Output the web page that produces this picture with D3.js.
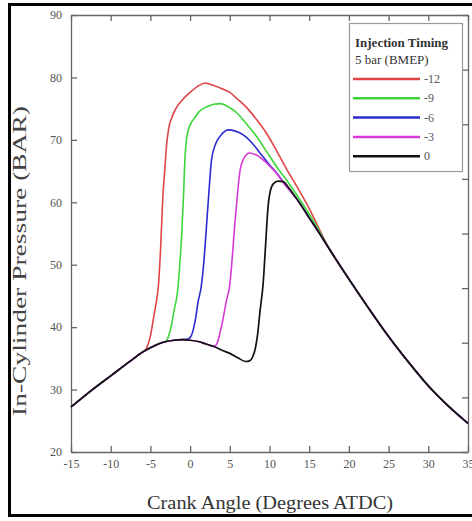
<html>
  <head>
    <meta charset="utf-8">
    <script src="https://d3js.org/d3.v7.min.js"></script>
    <style>
      body { margin: 0; background: #fff; }
    </style>
  </head>
  <body>
    <script>
        // values: [crank angle, pressure]
        var xTicks = [-15, -10, -5, 0, 5, 10, 15, 20, 25, 30, 35];
        var yTicks = [20, 30, 40, 50, 60, 70, 80, 90];

        // shared motoring / compression part
        var compression = [[-15, 27.2], [-12.5, 29.8], [-10, 32.2], [-7.5, 34.6], [-6, 36.0], [-5, 36.7],
            [-4, 37.3], [-3, 37.7], [-2, 37.9], [-1, 38.0], [0, 37.9], [1, 37.7], [2, 37.3], [3, 36.9],
            [4, 36.3], [5, 35.8], [6, 35.1], [7, 34.5]];
        // shared expansion part
        var expansion = [[14, 59.5], [15, 57.5], [16, 55.6], [17.5, 52.6], [20, 47.7], [22.5, 43.0],
            [25, 38.5], [27.5, 34.4], [30, 30.6], [32.5, 27.4], [35, 24.6]];

        var red = [[-5.5, 36.6], [-5.2, 37.6], [-5.0, 38.6], [-4.6, 41.5], [-4.2, 44.5], [-4.0, 46.5],
            [-3.7, 53], [-3.45, 60.4], [-3.2, 65], [-2.95, 69.3], [-2.7, 71.8], [-2.3, 73.6], [-1.7, 75.2],
            [-0.9, 76.5], [0, 77.6], [1, 78.6], [1.9, 79.1], [3, 78.7], [4, 78.2], [5, 77.6], [6, 76.5],
            [7.1, 75.2], [8.4, 73.2], [9.6, 71.1], [11, 68.0], [12.2, 65.2], [13, 63.5], [14, 61.3],
            [15, 59.0], [16, 56.4]];
        var green = [[-3.0, 37.8], [-2.7, 38.6], [-2.4, 40.0], [-2.0, 42.8], [-1.6, 45.5], [-1.3, 50],
            [-1.05, 55], [-0.85, 60.4], [-0.65, 67], [-0.4, 70.6], [0, 72.4], [0.5, 73.4], [1.2, 74.6],
            [2.1, 75.3], [3, 75.7], [3.8, 75.8], [4.8, 75.3], [5.9, 74.3], [7, 72.7], [8.4, 70.5],
            [9.6, 68.2], [10.9, 65.7], [12, 63.8], [13, 62.0], [14, 60.1], [15, 58.1], [16, 56.0]];
        var blue = [[-0.3, 38.1], [0.1, 38.5], [0.4, 39.6], [0.7, 41.5], [1.0, 44], [1.4, 46.5], [1.7, 50],
            [2.0, 55], [2.3, 60.4], [2.7, 66.8], [3.2, 69.3], [3.8, 70.6], [4.8, 71.6], [5.7, 71.4],
            [6.7, 70.8], [7.8, 69.5], [8.8, 67.9], [9.8, 66.3], [10.9, 64.7], [12, 62.8], [13, 61.3]];
        var magenta = [[3.0, 36.9], [3.4, 37.4], [3.75, 39], [4.1, 41], [4.6, 44.4], [5.0, 46.8], [5.3, 51],
            [5.6, 56], [5.9, 60.4], [6.3, 65.2], [6.8, 67.1], [7.5, 67.9], [8.3, 67.6], [9.2, 66.8],
            [10.1, 65.7], [10.9, 64.6], [12, 62.7], [13, 61.2]];
        var black = [[7.5, 34.6], [7.9, 35.3], [8.2, 36.5], [8.5, 38.8], [8.8, 42.5], [9.2, 47], [9.5, 53],
            [9.8, 59], [10.1, 61.8], [10.5, 63.0], [11.1, 63.4], [11.7, 63.3], [12.5, 62.2], [13, 61.3]];

        var timings = ["-12", "-9", "-6", "-3", "0"];
        var colors = ["#e04444", "#3cd63c", "#2b2bd0", "#d83ad8", "#111111"];

        var serif = "'Liberation Serif', 'DejaVu Serif', serif";

        function build(own) {
            var a0 = own[0][0], a1 = own[own.length - 1][0];
            return compression.filter(function (p) { return p[0] < a0; })
                .concat(own, expansion.filter(function (p) { return p[0] > a1; }));
        }
        var series = [red, green, blue, magenta, black].map(build);

        var width = 472, height = 521;
        var svg = d3.select("body").append("svg")
            .attr("width", width)
            .attr("height", height)
            .attr("font-family", serif);

        // outer frame
        svg.append("rect")
            .attr("x", 9.5).attr("y", 4.5)
            .attr("width", 480).attr("height", 511)
            .attr("fill", "none").attr("stroke", "#000").attr("stroke-width", 3);

        var x = d3.scaleLinear().domain([-15, 35]).range([71, 468]);
        var y = d3.scaleLinear().domain([20, 90]).range([452, 15]);

        var axisColor = "#666";
        var plain = function (d) { return String(d); };

        var gx = svg.append("g").attr("transform", "translate(0,452)")
            .call(d3.axisBottom(x).tickValues(xTicks).tickFormat(plain)
                .tickSizeInner(-6).tickSizeOuter(0).tickPadding(7));
        var gy = svg.append("g").attr("transform", "translate(71,0)")
            .call(d3.axisLeft(y).tickValues(yTicks).tickFormat(plain)
                .tickSizeInner(-6).tickSizeOuter(0).tickPadding(9));
        var gt = svg.append("g").attr("transform", "translate(0,15)")
            .call(d3.axisTop(x).tickValues(xTicks).tickSizeInner(-6).tickSizeOuter(0).tickFormat(""));
        // right frame has 8 equal divisions
        var rTicks = d3.range(0, 9).map(function (i) { return 20 + i * 70 / 8; });
        var gr = svg.append("g").attr("transform", "translate(468,0)")
            .call(d3.axisRight(y).tickValues(rTicks).tickSizeInner(-6).tickSizeOuter(0).tickFormat(""));

        [gx, gy, gt, gr].forEach(function (g) {
            g.attr("font-family", serif).attr("font-size", 12);
            g.selectAll("path, line").attr("stroke", axisColor).attr("stroke-width", 1.3);
            g.selectAll("text").attr("fill", "#555");
        });

        var line = d3.line()
            .x(function (d) { return x(d[0]); })
            .y(function (d) { return y(d[1]); })
            .curve(d3.curveMonotoneX);

        svg.append("g").selectAll("path")
            .data(series)
            .enter().append("path")
            .attr("d", line)
            .attr("fill", "none")
            .attr("stroke", function (d, i) { return colors[i]; })
            .attr("stroke-width", function (d, i) { return i == 4 ? 1.7 : 1.6; })
            .attr("stroke-linejoin", "round");

        // legend
        var lg = svg.append("g");
        lg.append("rect")
            .attr("x", 349.5).attr("y", 23.5)
            .attr("width", 113).attr("height", 148)
            .attr("fill", "#fff").attr("stroke", "#999").attr("stroke-width", 1.2);
        lg.append("text").attr("x", 355).attr("y", 47)
            .attr("font-size", 13).attr("font-weight", "bold").attr("fill", "#333")
            .text("Injection Timing");
        lg.append("text").attr("x", 355).attr("y", 64)
            .attr("font-size", 13).attr("fill", "#333")
            .text("5 bar (BMEP)");
        var items = lg.selectAll("g.item")
            .data(timings)
            .enter().append("g")
            .attr("class", "item")
            .attr("transform", function (d, i) { return "translate(0," + (79 + i * 19.3) + ")"; });
        items.append("line")
            .attr("x1", 353).attr("x2", 420)
            .attr("stroke", function (d, i) { return colors[i]; })
            .attr("stroke-width", 2.5);
        items.append("text")
            .attr("x", 424).attr("y", 4)
            .attr("font-size", 12).attr("fill", "#555")
            .text(function (d) { return d; });

        // axis titles
        svg.append("text")
            .attr("x", 270).attr("y", 509)
            .attr("text-anchor", "middle")
            .attr("textLength", 246).attr("lengthAdjust", "spacingAndGlyphs")
            .attr("font-size", 19).attr("fill", "#333")
            .text("Crank Angle (Degrees ATDC)");
        svg.append("text")
            .attr("transform", "translate(26,261) rotate(-90)")
            .attr("text-anchor", "middle")
            .attr("textLength", 310).attr("lengthAdjust", "spacingAndGlyphs")
            .attr("font-size", 18).attr("fill", "#444")
            .text("In-Cylinder Pressure (BAR)");
    </script>
  </body>
</html>
